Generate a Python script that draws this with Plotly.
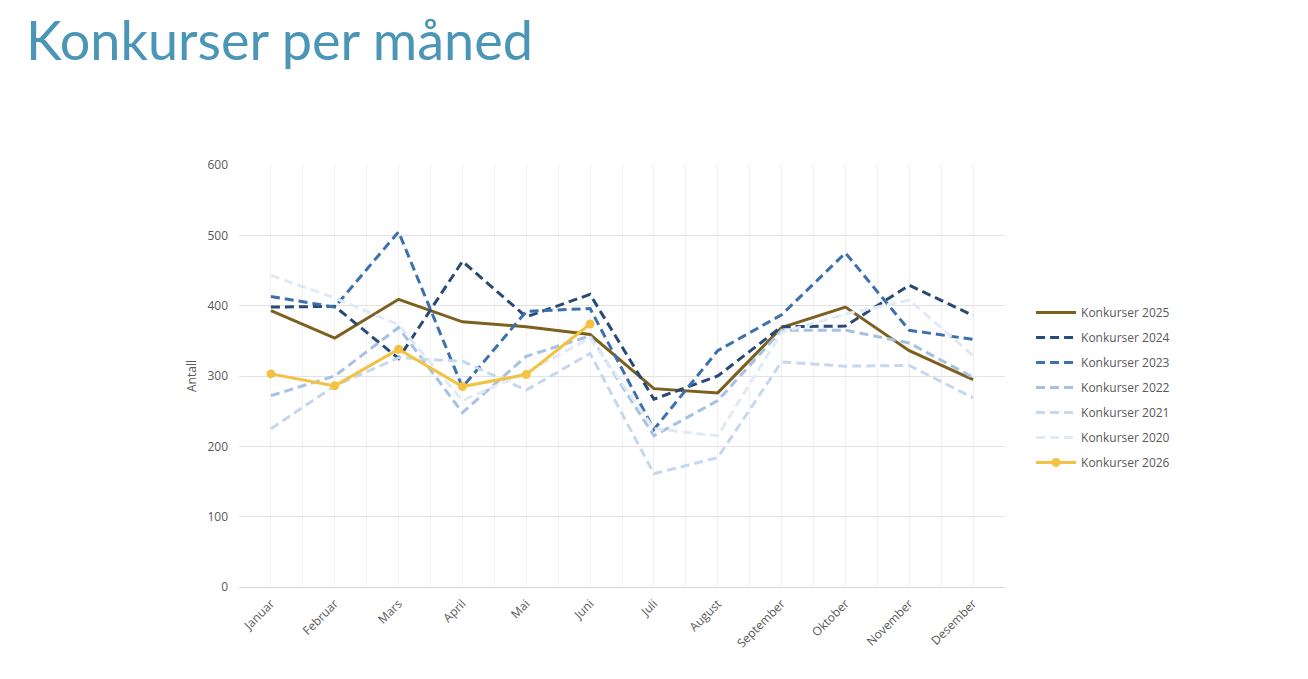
import plotly.graph_objects as go

months = ["Januar", "Februar", "Mars", "April", "Mai", "Juni", "Juli", "August",
          "September", "Oktober", "November", "Desember"]

k2025 = [393, 354, 409, 377, 370, 359, 282, 276, 369, 398, 336, 295]
k2024 = [398, 399, 325, 463, 384, 416, 267, 300, 370, 371, 429, 386]
k2023 = [413, 398, 505, 284, 392, 396, 224, 336, 387, 475, 365, 352]
k2022 = [272, 300, 369, 248, 328, 357, 215, 265, 365, 365, 347, 298]
k2021 = [225, 286, 326, 321, 280, 332, 161, 184, 320, 314, 315, 269]
k2020 = [443, 411, 373, 265, 305, 354, 225, 215, 362, 388, 408, 329]
k2026 = [303, 286, 338, 285, 302, 374]

yticks = [0, 100, 200, 300, 400, 500, 600]

series = [
    ("Konkurser 2025", k2025, "#7d5f1e", "solid", False),
    ("Konkurser 2024", k2024, "#284a76", "9px,5px", False),
    ("Konkurser 2023", k2023, "#3c70ae", "9px,5px", False),
    ("Konkurser 2022", k2022, "#a6c1e3", "9px,5px", False),
    ("Konkurser 2021", k2021, "#c5d8ef", "9px,5px", False),
    ("Konkurser 2020", k2020, "#e0eaf6", "9px,5px", False),
    ("Konkurser 2026", k2026, "#f4c242", "solid", True),
]

xs = list(range(len(months)))

fig = go.Figure()
for i, (name, vals, color, dash, markers) in enumerate(series):
    fig.add_trace(go.Scatter(
        x=xs[:len(vals)], y=vals, name=name,
        mode="lines+markers" if markers else "lines",
        line=dict(color=color, width=3, dash=dash),
        marker=dict(size=9, color=color) if markers else None,
        legendgroup=f"g{i}",
        hoverinfo="skip",
    ))

tick_font = dict(family="Open Sans, sans-serif", size=12, color="#595959")

W, H = 1300, 671  # page body adds an 8px offset

fig.update_layout(
    width=W, height=H,
    margin=dict(l=231, r=303, t=157, b=92),
    paper_bgcolor="white", plot_bgcolor="white",
    title=dict(
        text="Konkurser per måned",
        font=dict(family="Lato, sans-serif", size=54, color="#4b95b7"),
        x=18 / W, xanchor="left", xref="container",
        y=1 - 14 / H, yanchor="top", yref="container",
    ),
    xaxis=dict(
        range=[-0.5, 11.5],
        tickmode="array", tickvals=xs, ticktext=months,
        tickangle=-45, tickfont=tick_font,
        showgrid=True, gridcolor="#f1f1f1", gridwidth=1,
        minor=dict(tickmode="array", tickvals=[v + 0.5 for v in range(-1, 12)],
                   showgrid=True, gridcolor="#f1f1f1", gridwidth=1),
        showline=True, linecolor="#d9d9d9", linewidth=1,
        zeroline=False, ticks="", ticklabelstandoff=4,
        fixedrange=True,
    ),
    yaxis=dict(
        range=[0, 600], tickmode="array", tickvals=yticks,
        tickfont=tick_font,
        showgrid=True, gridcolor="#e3e3e3", gridwidth=1,
        zeroline=False, showline=False, ticks="", ticklabelstandoff=10,
        title=dict(text="Antall", font=dict(family="Open Sans, sans-serif", size=12, color="#595959"),
                   standoff=8),
        fixedrange=True,
    ),
    legend=dict(
        x=1.034, xanchor="left", y=0.685, yanchor="top",
        font=dict(family="Open Sans, sans-serif", size=12, color="#595959"),
        traceorder="grouped", tracegroupgap=6,
        itemwidth=40, bgcolor="rgba(0,0,0,0)",
    ),
    showlegend=True,
)

fig.write_html("out.html", config={"displayModeBar": False})
